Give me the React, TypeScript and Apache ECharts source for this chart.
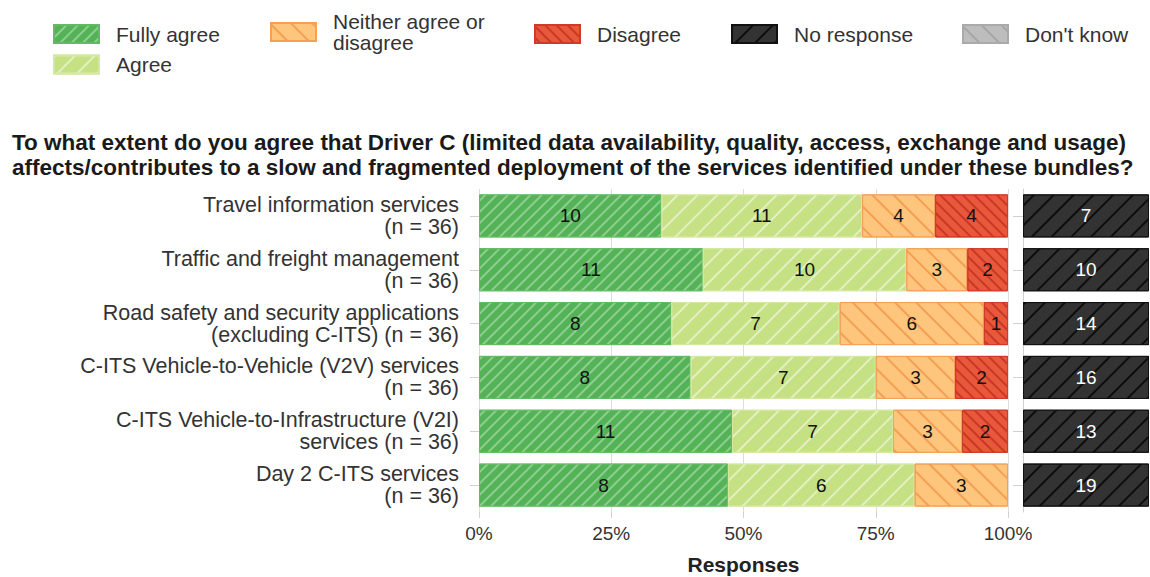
import React, { useEffect, useRef } from "react";
import * as echarts from "echarts";

const categories = [
  "Travel information services\n(n = 36)",
  "Traffic and freight management\n(n = 36)",
  "Road safety and security applications\n(excluding C-ITS) (n = 36)",
  "C-ITS Vehicle-to-Vehicle (V2V) services\n(n = 36)",
  "C-ITS Vehicle-to-Infrastructure (V2I)\nservices (n = 36)",
  "Day 2 C-ITS services\n(n = 36)",
];
const fullyAgree = [10, 11, 8, 8, 11, 8];
const agree = [11, 10, 7, 7, 7, 6];
const neither = [4, 3, 6, 3, 3, 3];
const disagree = [4, 2, 1, 2, 2, 0];
const noResponse = [7, 10, 14, 16, 13, 19];
const dontKnow = [0, 0, 0, 0, 0, 0];
const xTicks = [0, 25, 50, 75, 100];

const NEITHER = "Neither agree or\ndisagree";

const FONT = "Liberation Sans, Arial, sans-serif";

function hatch(color: string, width: number, gap: number, dir: number) {
  return {
    symbol: "rect",
    symbolSize: 1,
    color,
    dashArrayX: [1, 0],
    dashArrayY: [width, gap],
    rotation: (dir * Math.PI) / 4,
  };
}
// dir -1 => "/" ; dir 1 => "\"

export default function App() {
  const ref = useRef<HTMLDivElement>(null);
  useEffect(() => {
    document.body.style.margin = "0";
    const chart = echarts.init(ref.current!, null, { renderer: "svg" });
    const totals = categories.map(
      (_, i) => fullyAgree[i] + agree[i] + neither[i] + disagree[i]
    );
    const pct = (arr: number[]) =>
      arr.map((v, i) =>
        v > 0 ? { value: (v / totals[i]) * 100, count: v } : { value: null, count: 0 }
      );

    const labelL = {
      show: true,
      position: "inside",
      fontSize: 19,
      fontFamily: FONT,
      color: "#111",
      formatter: (p: any) => (p.data.count > 0 ? String(p.data.count) : ""),
    };

    const mk = (
      name: string,
      arr: number[],
      color: string,
      border: string,
      decal: any
    ) => ({
      name,
      type: "bar",
      stack: "l",
      xAxisIndex: 0,
      yAxisIndex: 0,
      barWidth: "80%",
      data: pct(arr),
      label: labelL,
      itemStyle: { color, borderColor: border, borderWidth: 1, decal },
    });

    const legendBase = {
      itemWidth: 45,
      itemHeight: 18,
      padding: 0,
      textStyle: {
        fontSize: 21,
        color: "#333",
        fontFamily: FONT,
        lineHeight: 24,
        padding: [0, 0, 0, 12],
      },
      selectedMode: false,
      icon: "rect",
    };

    const option: any = {
      animation: false,
      textStyle: { fontFamily: FONT },
      title: {
        text:
          "To what extent do you agree that Driver C (limited data availability, quality, access, exchange and usage)\naffects/contributes to a slow and fragmented deployment of the services identified under these bundles?",
        left: 7,
        top: 125,
        textStyle: {
          fontSize: 22.5,
          fontWeight: "bold",
          color: "#1a1a1a",
          lineHeight: 25,
          fontFamily: FONT,
        },
      },
      legend: [
        { ...legendBase, data: ["Fully agree", "Agree"], orient: "vertical", left: 53, top: 22, itemGap: 6.5 },
        { ...legendBase, data: [NEITHER], left: 270, top: 11, textStyle: { ...legendBase.textStyle, lineHeight: 21 } },
        { ...legendBase, data: ["Disagree"], left: 534, top: 22 },
        { ...legendBase, data: ["No response"], left: 731, top: 22 },
        { ...legendBase, data: ["Don't know"], left: 962, top: 22 },
      ],
      grid: [
        { left: 479, top: 189, width: 529, height: 323, outerBoundsMode: "none", containLabel: false },
        { left: 1023, top: 189, width: 126, height: 323, outerBoundsMode: "none", containLabel: false },
      ],
      xAxis: [
        {
          gridIndex: 0,
          type: "value",
          min: xTicks[0],
          max: xTicks[xTicks.length - 1],
          interval: xTicks[1] - xTicks[0],
          axisLabel: {
            formatter: "{value}%",
            fontSize: 19,
            color: "#333",
            margin: 12,
            fontFamily: FONT,
          },
          axisLine: { show: false },
          axisTick: { show: true, length: 6, lineStyle: { color: "#d0d0d0" } },
          splitLine: { show: true, lineStyle: { color: "#dcdcdc" } },
          name: "Responses",
          nameLocation: "middle",
          nameGap: 42,
          nameTextStyle: { fontSize: 21, fontWeight: "bold", color: "#222", fontFamily: FONT },
        },
        {
          gridIndex: 1,
          type: "value",
          min: 0,
          max: 1,
          show: false,
        },
      ],
      yAxis: [
        {
          gridIndex: 0,
          type: "category",
          data: categories,
          inverse: true,
          axisLine: { show: false },
          axisTick: { show: true, alignWithLabel: true, length: 9, lineStyle: { color: "#d0d0d0" } },
          axisLabel: {
            fontSize: 21.5,
            lineHeight: 22,
            color: "#333",
            margin: 20,
            padding: [10, 0, 0, 0],
            fontFamily: FONT,
          },
        },
        {
          gridIndex: 1,
          type: "category",
          data: categories,
          inverse: true,
          axisLine: { show: true, lineStyle: { color: "#d0d0d0" } },
          axisTick: { show: true, alignWithLabel: true, length: 10, lineStyle: { color: "#d0d0d0" } },
          axisLabel: { show: false },
        },
      ],
      series: [
        mk("Fully agree", fullyAgree, "#53b356", "#62bb62", hatch("rgba(255,255,255,0.35)", 1.5, 6, -1)),
        mk("Agree", agree, "#c6e084", "#d4e8a0", hatch("rgba(255,255,255,0.5)", 1.5, 12, -1)),
        mk(NEITHER, neither, "#fdc67c", "#f4a055", hatch("rgba(236,128,50,0.55)", 1.5, 13, 1)),
        mk("Disagree", disagree, "#e9583b", "#d13a2a", hatch("rgba(170,30,20,0.55)", 1.5, 6, 1)),
        {
          name: "No response",
          type: "bar",
          stack: "r",
          xAxisIndex: 1,
          yAxisIndex: 1,
          barWidth: "80%",
          data: noResponse.map((v) => ({ value: 1, count: v })),
          label: {
            show: true,
            position: "inside",
            fontSize: 19,
            color: "#fff",
            fontFamily: FONT,
            formatter: (p: any) => String(p.data.count),
          },
          itemStyle: {
            color: "#333333",
            borderColor: "#111",
            borderWidth: 1,
            decal: hatch("rgba(0,0,0,0.75)", 1.5, 12, -1),
          },
        },
        {
          name: "Don't know",
          type: "bar",
          stack: "r",
          xAxisIndex: 1,
          yAxisIndex: 1,
          barWidth: "80%",
          data: dontKnow.map((v) => (v > 0 ? v : null)),
          itemStyle: {
            color: "#bdbdbd",
            borderColor: "#aaa",
            borderWidth: 1,
            decal: hatch("rgba(150,150,150,0.6)", 1.5, 12, 1),
          },
        },
      ],
    };
    chart.setOption(option);
    return () => chart.dispose();
  }, []);
  return <div ref={ref} style={{ width: 1150, height: 577 }} />;
}
